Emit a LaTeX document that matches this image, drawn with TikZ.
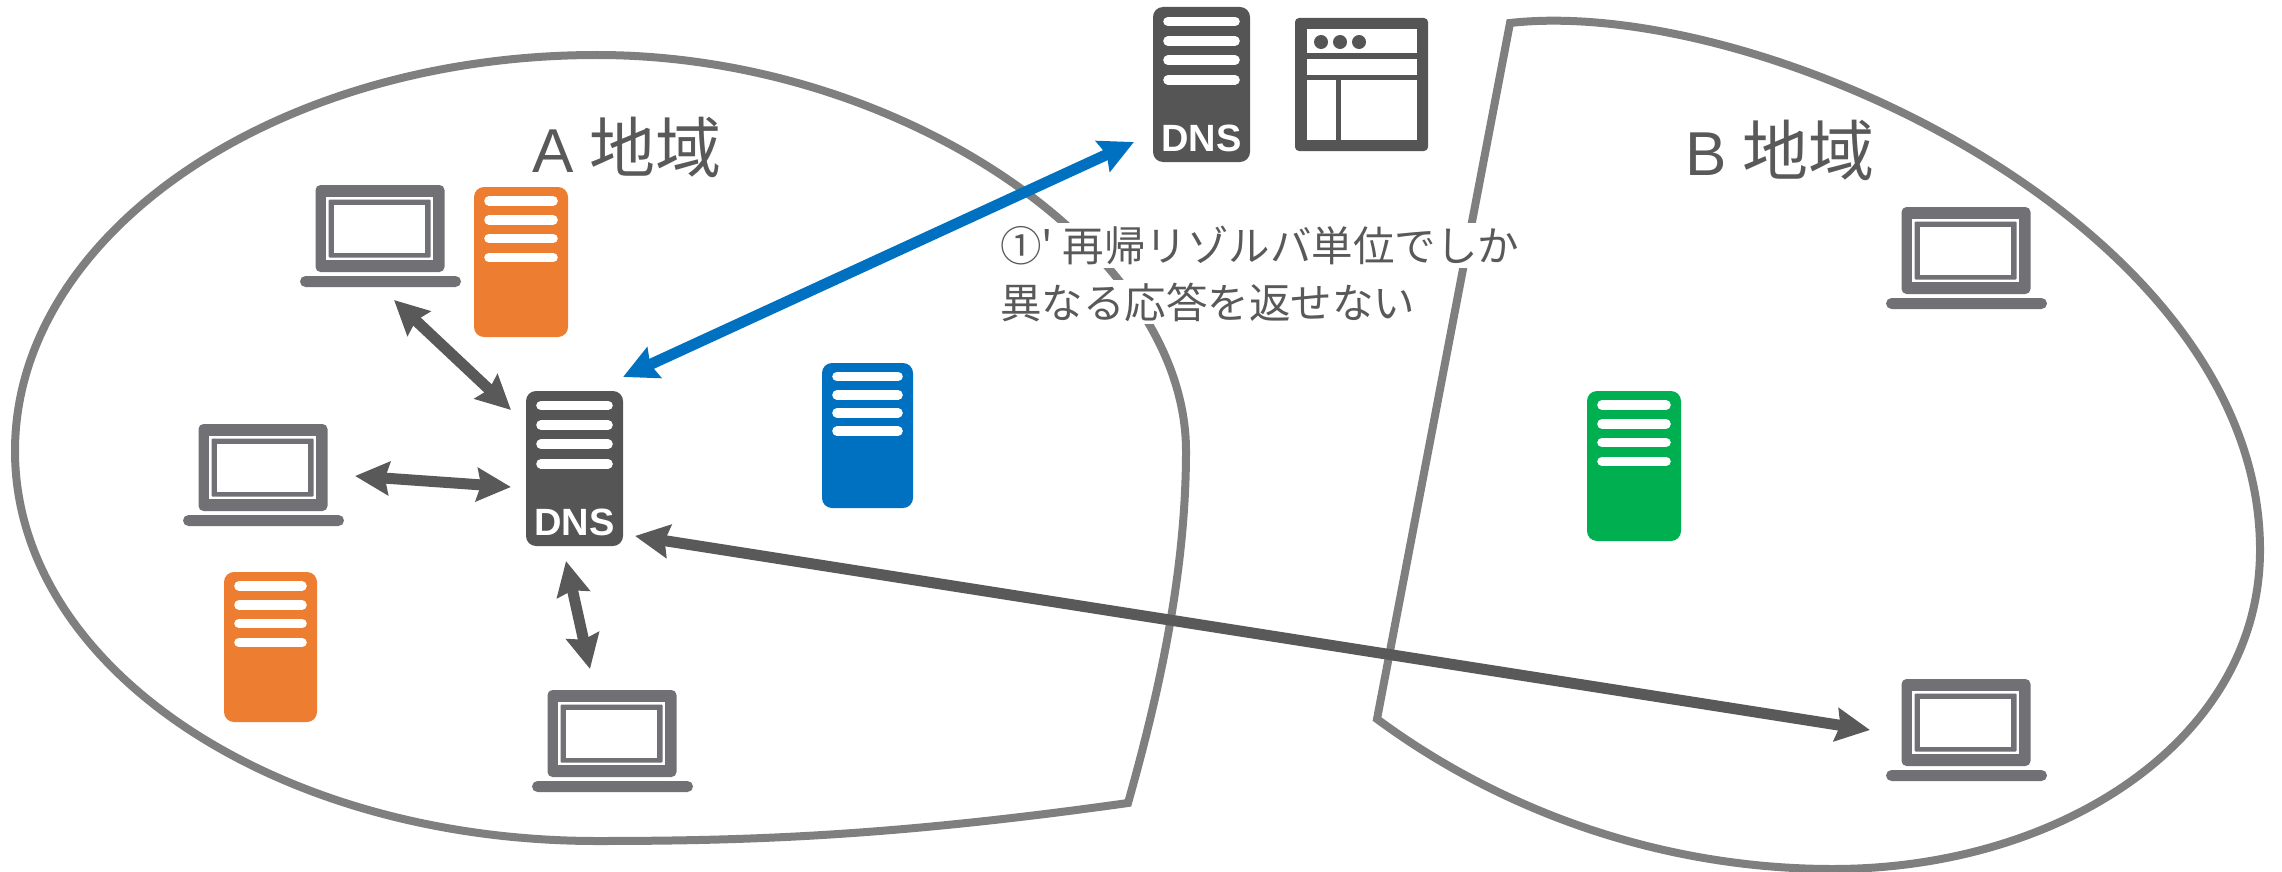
\documentclass[tikz,border=0pt]{standalone}
\usepackage{fontspec}
\setmainfont{Liberation Sans}
\newfontfamily\cjk{Noto Sans CJK JP}
\usetikzlibrary{arrows.meta}
\definecolor{dnsgray}{HTML}{555555}
\definecolor{arrowgray}{HTML}{595959}
\definecolor{lapgray}{HTML}{717175}
\definecolor{blobgray}{HTML}{7F7F7F}
\definecolor{txtgray}{HTML}{595959}
\definecolor{srvorange}{HTML}{ED7D31}
\definecolor{srvblue}{HTML}{0070C0}
\definecolor{srvgreen}{HTML}{00B050}
\tikzset{
  blob/.style={draw=blobgray,line width=8pt,line join=miter},
  srvbox/.style={rectangle,rounded corners=10pt,inner sep=0pt,outer sep=0pt,draw=none},
  barline/.style={white,line width=9.6pt,line cap=round},
  lapbody/.style={rectangle,rounded corners=5pt,fill=lapgray,inner sep=0pt,outer sep=0pt,minimum width=129pt,minimum height=87pt},
  biarrow/.style={draw=#1,line width=11pt,{Stealth[length=34pt,width=33pt,inset=4pt,fill=#1]}-{Stealth[length=34pt,width=33pt,inset=4pt,fill=#1]}},
  region/.style={text=txtgray,anchor=base west,inner sep=0pt,font=\fontsize{62}{62}\selectfont},
  note/.style={text=txtgray,anchor=base west,fill=white,inner xsep=5pt,inner ysep=3pt,font=\cjk\fontsize{41.5}{41.5}\selectfont},
  dnslabel/.style={text=white,inner sep=0pt,font=\bfseries\fontsize{38}{38}\selectfont}
}
% name, x, y, w, h, colour
\newcommand{\srvicon}[6]{%
  \begin{scope}[shift={(#2,#3)}]
    \node[srvbox,fill=#6,minimum width=#4pt,minimum height=#5pt] (#1) at ({#4/2},{#5/2}) {};
    \foreach \by in {14,33,51.5,70.5}
      \draw[barline] (15,{\by*#5/150}) -- ({#4-15},{\by*#5/150});
  \end{scope}}
% name, x of base, y of top
\newcommand{\lapicon}[3]{%
  \begin{scope}[shift={(#2,#3)}]
    \node[lapbody] (#1) at (80,43.5) {};
    \fill[white] (26,12) rectangle (133,75);
    \fill[lapgray,rounded corners=1pt] (28.5,14.5) rectangle (130.5,72.5);
    \fill[white] (34,20) rectangle (125,68);
    \fill[lapgray,rounded corners=5.5pt] (0,91) rectangle (161,102);
  \end{scope}}
\begin{document}
\begin{tikzpicture}[x=1pt,y=-1pt]
\useasboundingbox (0,0) rectangle (2282,872);
% regions
\draw[blob] (15,451) .. controls (15,233) and (276,55) .. (597,55)
  .. controls (900,55) and (1186,250) .. (1186,451)
  .. controls (1186,570) and (1160,690) .. (1128,803)
  .. controls (900,835) and (760,841) .. (597,841)
  .. controls (276,841) and (15,668) .. (15,451) -- cycle;
\draw[blob] (1510,23) .. controls (1760,-5) and (2260,225) .. (2260,550)
  .. controls (2260,740) and (2060,869) .. (1833,869)
  .. controls (1660,869) and (1500,810) .. (1377,719) -- cycle;
% texts
\node[region] (labelA) at (532,172) {A {\cjk\fontsize{66}{66}\selectfont\hspace{-1pt}地域}};
\node[region] (labelB) at (1685,175) {B {\cjk\fontsize{66}{66}\selectfont\hspace{-1pt}地域}};
\node[note] (noteone) at (995,261) {①' 再帰リゾルバ単位でしか};
\node[note] (notetwo) at (995,318) {異なる応答を返せない};
% servers
\srvicon{dnsA}{526}{391}{97}{155}{dnsgray}
\node[dnslabel] (dnsAt) at (574.5,522) {DNS};
\srvicon{dnsTop}{1153}{7}{97}{155}{dnsgray}
\node[dnslabel] (dnsTopt) at (1201.5,138) {DNS};
\srvicon{orangeA}{474}{187}{94}{150}{srvorange}
\srvicon{orangeB}{224}{572}{93}{150}{srvorange}
\srvicon{blueS}{822}{363}{91}{145}{srvblue}
\srvicon{greenS}{1587}{391}{94}{150}{srvgreen}
% browser
\node[srvbox,rounded corners=4pt,fill=dnsgray,minimum width=133pt,minimum height=133pt] (browser) at (1361.5,84.5) {};
\fill[white] (1307,29) rectangle (1417,53);
\fill[white] (1307,59) rectangle (1417,75);
\fill[white] (1307,80) rectangle (1336,140);
\fill[white] (1341,80) rectangle (1417,140);
\fill[dnsgray] (1321,42) circle (7) (1340,42) circle (7) (1359,42) circle (7);
% laptops
\lapicon{lapA}{300}{185}
\lapicon{lapB}{183}{424}
\lapicon{lapC}{532}{690}
\lapicon{lapD}{1886}{207}
\lapicon{lapE}{1886}{679}
% connector ends
\coordinate (lapAend) at (394,300);
\coordinate (dnsAa) at (511,410);
\coordinate (lapBend) at (355,476);
\coordinate (dnsAb) at (511,487);
\coordinate (dnsAc) at (566,561);
\coordinate (lapCend) at (590,669);
\coordinate (dnsAd) at (635,536);
\coordinate (lapEend) at (1870,730);
\coordinate (dnsAe) at (623,377);
\coordinate (dnsTopend) at (1134,142);
% connectors
\draw[biarrow=arrowgray] (lapAend) -- (dnsAa);
\draw[biarrow=arrowgray] (lapBend) -- (dnsAb);
\draw[biarrow=arrowgray] (dnsAc) -- (lapCend);
\draw[biarrow=arrowgray] (dnsAd) -- (lapEend);
\draw[biarrow=srvblue] (dnsAe) -- (dnsTopend);
\end{tikzpicture}
\end{document}
